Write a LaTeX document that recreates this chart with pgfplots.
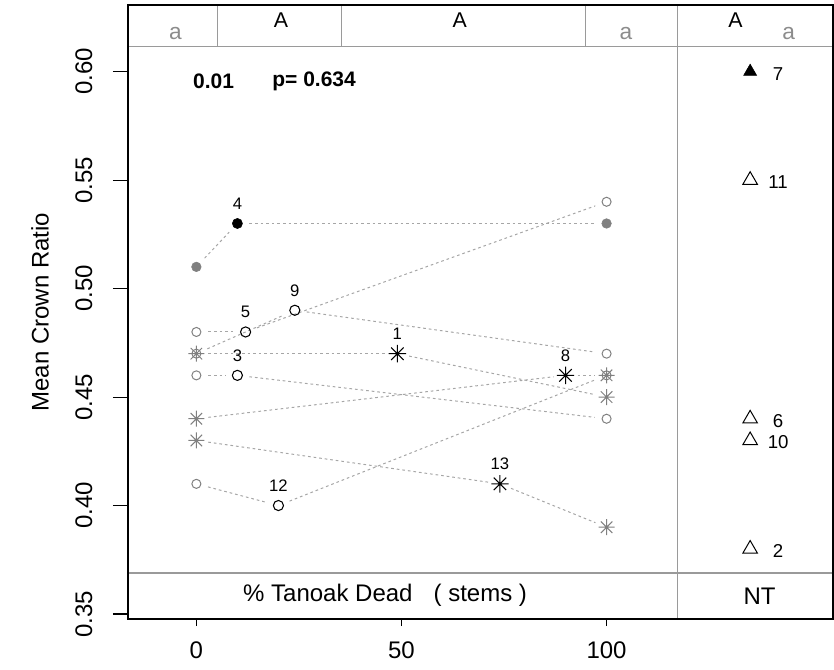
\documentclass[border=0pt]{standalone}
\usepackage{fontspec}
\setmainfont{Liberation Sans}
\usepackage{pgfplots}
\pgfplotsset{compat=1.18}
\definecolor{ptgray}{HTML}{808080}
\definecolor{lngray}{HTML}{A6A6A6}
\definecolor{frgray}{HTML}{9A9A9A}
\definecolor{letgray}{HTML}{8C8C8C}

% R pch 8: plus and cross on top of each other
\pgfdeclareplotmark{rstar}{%
  \pgfpathmoveto{\pgfqpoint{-\pgfplotmarksize}{0pt}}%
  \pgfpathlineto{\pgfqpoint{\pgfplotmarksize}{0pt}}%
  \pgfpathmoveto{\pgfqpoint{0pt}{-\pgfplotmarksize}}%
  \pgfpathlineto{\pgfqpoint{0pt}{\pgfplotmarksize}}%
  \pgfpathmoveto{\pgfqpoint{-0.72\pgfplotmarksize}{-0.72\pgfplotmarksize}}%
  \pgfpathlineto{\pgfqpoint{0.72\pgfplotmarksize}{0.72\pgfplotmarksize}}%
  \pgfpathmoveto{\pgfqpoint{-0.72\pgfplotmarksize}{0.72\pgfplotmarksize}}%
  \pgfpathlineto{\pgfqpoint{0.72\pgfplotmarksize}{-0.72\pgfplotmarksize}}%
  \pgfusepathqstroke}

\newcommand{\seg}[4]{\addplot[seg] coordinates {(#1,#2) (#3,#4)};}

\begin{document}
\begin{tikzpicture}
\begin{axis}[name=ax, scale only axis, width=528.75pt, height=460.5pt,
  xmin=-16.67, xmax=155.2, ymin=0.3477, ymax=0.6307, clip=false,
  axis on top,
  axis line style={black, line width=0.8pt},
  xtick={0,50,100}, ytick={0.35,0.40,0.45,0.50,0.55,0.60},
  yticklabels={0.35,0.40,0.45,0.50,0.55,0.60},
  xtick pos=bottom, ytick pos=left, tick align=outside,
  tick style={black, line width=0.8pt},
  xtick style={/pgfplots/major tick length=5.25pt},
  ytick style={/pgfplots/major tick length=11.25pt},
  /pgf/number format/assume math mode=true,
  ticklabel style={font=\fontsize{18pt}{21pt}\selectfont},
  yticklabel style={rotate=90, anchor=south, yshift=19pt},
  xticklabel style={yshift=-9pt},
  ylabel={Mean Crown Ratio},
  ylabel style={font=\fontsize{18pt}{21pt}\selectfont, at={(axis description cs:-0.1248,0.5)}, anchor=center},
  seg/.style={lngray, line width=0.75pt, dash pattern=on 2pt off 2.2pt, shorten <=9pt, shorten >=9pt, forget plot},
  lab/.style={point meta=explicit symbolic, nodes near coords,
    nodes near coords style={font=\fontsize{12.5pt}{15pt}\selectfont, anchor=center, yshift=15pt, black}},
  ntlab/.style={point meta=explicit symbolic, nodes near coords,
    nodes near coords style={font=\fontsize{14pt}{16pt}\selectfont, anchor=center, xshift=21pt, yshift=-1.5pt, black}},
]
% strips and panel divider
\draw[frgray, line width=0.8pt] (axis cs:-16.67,0.6114) -- (axis cs:155.2,0.6114);
\draw[frgray, line width=0.8pt] (axis cs:-16.67,0.3689) -- (axis cs:155.2,0.3689);
\draw[frgray, line width=0.8pt] (axis cs:117.4,0.3477) -- (axis cs:117.4,0.6307);
\draw[frgray, line width=0.8pt] (axis cs:5.1,0.6114) -- (axis cs:5.1,0.6307);
\draw[frgray, line width=0.8pt] (axis cs:35.3,0.6114) -- (axis cs:35.3,0.6307);
\draw[frgray, line width=0.8pt] (axis cs:94.8,0.6114) -- (axis cs:94.8,0.6307);

% dotted site lines: 0 -> observed -> 100
\seg{0}{0.51}{10}{0.53} \seg{10}{0.53}{100}{0.53}
\seg{0}{0.48}{12}{0.48} \seg{12}{0.48}{100}{0.54}
\seg{0}{0.47}{24}{0.49} \seg{24}{0.49}{100}{0.47}
\seg{0}{0.46}{10}{0.46} \seg{10}{0.46}{100}{0.44}
\seg{0}{0.41}{20}{0.40} \seg{20}{0.40}{100}{0.46}
\seg{0}{0.47}{49}{0.47} \seg{49}{0.47}{100}{0.45}
\seg{0}{0.44}{90}{0.46} \seg{90}{0.46}{100}{0.46}
\seg{0}{0.43}{74}{0.41} \seg{74}{0.41}{100}{0.39}

% gray end points
\addplot[only marks, mark=o, ptgray, mark size=3.4pt, mark options={line width=0.75pt}]
  coordinates {(0,0.48) (0,0.47) (0,0.46) (0,0.41) (100,0.54) (100,0.47) (100,0.46) (100,0.44)};
\addplot[only marks, mark=*, ptgray, mark size=3.6pt]
  coordinates {(0,0.51) (100,0.53)};
\addplot[only marks, mark=rstar, ptgray, mark size=6pt, mark options={line width=0.75pt}]
  coordinates {(0,0.47) (0,0.44) (0,0.43) (100,0.46) (100,0.45) (100,0.39)};

% observed sites
\addplot[only marks, mark=*, black, mark size=3.8pt, lab] table[meta=lab] {
x y lab
10 0.53 4
};
\addplot[only marks, mark=o, black, mark size=3.8pt, mark options={line width=0.8pt}, lab] table[meta=lab] {
x y lab
12 0.48 5
24 0.49 9
10 0.46 3
20 0.40 12
};
\addplot[only marks, mark=rstar, black, mark size=6.5pt, mark options={line width=0.8pt}, lab] table[meta=lab] {
x y lab
49 0.47 1
90 0.46 8
74 0.41 13
};

% NT panel
\addplot[only marks, mark=triangle*, black, mark size=5.6pt, ntlab] table[meta=lab] {
x y lab
135 0.60 7
};
\addplot[only marks, mark=triangle, black, mark size=6.3pt, mark options={line width=0.75pt}, ntlab] table[meta=lab] {
x y lab
135 0.55 11
135 0.44 6
135 0.43 10
135 0.38 2
};

% texts
\node[font=\fontsize{15.75pt}{18pt}\selectfont\bfseries] at (axis cs:4.2,0.5954) {0.01};
\node[font=\fontsize{15.75pt}{18pt}\selectfont\bfseries] at (axis cs:28.7,0.5954) {p= 0.634};
\node[font=\fontsize{17pt}{20pt}\selectfont, letgray] at (axis cs:-5.1,0.6175) {a};
\node[font=\fontsize{16pt}{19pt}\selectfont] at (axis cs:20.6,0.6235) {A};
\node[font=\fontsize{16pt}{19pt}\selectfont] at (axis cs:64.2,0.6235) {A};
\node[font=\fontsize{17pt}{20pt}\selectfont, letgray] at (axis cs:104.7,0.6175) {a};
\node[font=\fontsize{16pt}{19pt}\selectfont] at (axis cs:131.4,0.6235) {A};
\node[font=\fontsize{17pt}{20pt}\selectfont, letgray] at (axis cs:144.4,0.6175) {a};
\node[font=\fontsize{18pt}{21pt}\selectfont] at (axis cs:46,0.3588) {\% Tanoak Dead\hspace{0.6em} ( stems )};
\node[font=\fontsize{18pt}{21pt}\selectfont] at (axis cs:137.3,0.3580) {NT};
\end{axis}
\useasboundingbox ([xshift=-96pt, yshift=-37.5pt]ax.south west) rectangle ([xshift=0.75pt, yshift=3.75pt]ax.north east);
\end{tikzpicture}
\end{document}
